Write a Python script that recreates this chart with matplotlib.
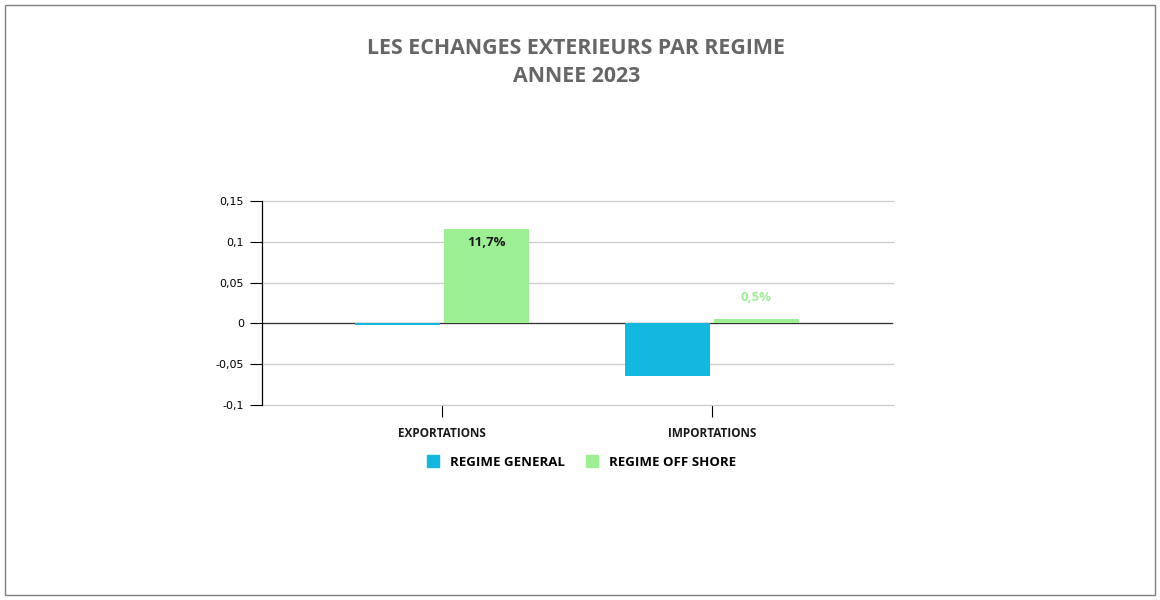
import matplotlib

matplotlib.use("Agg")
import matplotlib.pyplot as plt
from matplotlib.patches import Rectangle
from matplotlib.lines import Line2D
import numpy as np

categories = ["EXPORTATIONS", "IMPORTATIONS"]
regime_general = [-0.002, -0.065]
regime_offshore = [0.116, 0.005]
offshore_labels = ["11,7%", "0,5%"]
series_names = ["REGIME GENERAL", "REGIME OFF SHORE"]
y_ticks = [-0.1, -0.05, 0, 0.05, 0.1, 0.15]
y_tick_labels = ["-0,1", "-0,05", "0", "0,05", "0,1", "0,15"]

BLUE = "#12b8de"
GREEN = "#9cf093"
TITLE_GRAY = "#666666"
LABEL_FONT = ["Open Sans", "DejaVu Sans"]

fig = plt.figure(figsize=(11.6, 6.0), dpi=100)
fig.patches.append(Rectangle((5 / 1160, 5 / 600), 1150 / 1160, 590 / 600,
                             transform=fig.transFigure, fill=False,
                             edgecolor="#7f7f7f", lw=1.0))

ax = fig.add_axes([262 / 1160, 195 / 600, 631 / 1160, 204 / 600])

x = np.arange(len(categories))
width = 0.315
gap = 0.006
ax.bar(x - width / 2 - gap, regime_general, width, color=BLUE, zorder=3)
ax.bar(x + width / 2 + gap, regime_offshore, width, color=GREEN, zorder=3)

# data labels for the off shore series
ax.text(x[0] + width / 2 + gap, regime_offshore[0] - 0.0085, offshore_labels[0],
        ha="center", va="top", fontsize=9.5, fontweight="bold",
        color="#1a1a1a", family=LABEL_FONT, zorder=4)
ax.text(x[1] + width / 2 + gap, regime_offshore[1] + 0.019, offshore_labels[1],
        ha="center", va="bottom", fontsize=9.5, fontweight="bold",
        color=GREEN, family=LABEL_FONT, zorder=4)

ax.set_xlim(-0.667, 1.67)
ax.set_ylim(-0.1, 0.15)
ax.set_yticks(y_ticks)
ax.set_yticklabels(y_tick_labels, fontsize=8)
ax.set_xticks(x)
ax.set_xticklabels(categories, fontsize=8.5, fontweight="bold", family=LABEL_FONT,
                   color="#1a1a1a")
ax.tick_params(axis="x", length=8.5, width=0.8, pad=7.3)
ax.tick_params(axis="y", length=9, width=0.8, pad=4)

ax.grid(axis="y", color="#cccccc", lw=0.9, zorder=0)
for gl in ax.get_ygridlines():
    gl.set_clip_on(False)
ax.axhline(0, color="#333333", lw=0.9, zorder=2)
for side in ("top", "right", "bottom"):
    ax.spines[side].set_visible(False)
ax.spines["left"].set_color("black")
ax.spines["left"].set_linewidth(0.9)
ax.spines["left"].set_zorder(5)

fig.text(576 / 1160, 1 - 48 / 600, "LES ECHANGES EXTERIEURS PAR REGIME", ha="center",
         va="center", fontsize=15.4, fontweight="bold", color=TITLE_GRAY, family=LABEL_FONT)
fig.text(577 / 1160, 1 - 76 / 600, "ANNEE 2023", ha="center", va="center",
         fontsize=15.4, fontweight="bold", color=TITLE_GRAY, family=LABEL_FONT)

handles = [Line2D([], [], marker="s", linestyle="", markersize=9, color=c)
           for c in (BLUE, GREEN)]
fig.legend(handles, series_names, loc="center", bbox_to_anchor=(578 / 1160, 1 - 462 / 600),
           ncol=2, frameon=False, handletextpad=0.3, columnspacing=1.0,
           prop={"family": LABEL_FONT, "weight": "bold", "size": 9.5})

fig.savefig("out.png", dpi=100)
